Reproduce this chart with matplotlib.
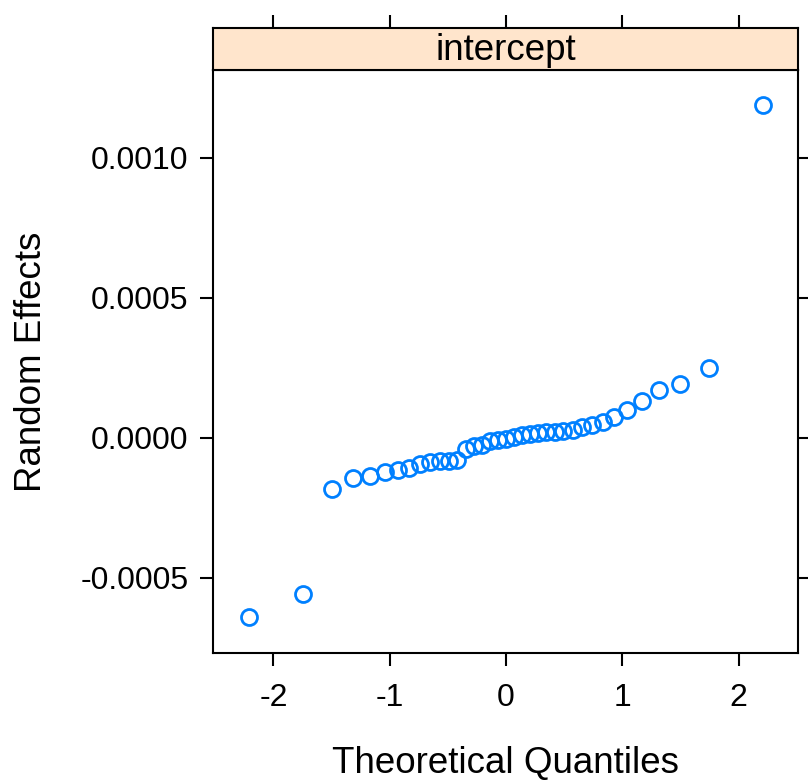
from statistics import NormalDist
import matplotlib
matplotlib.use("Agg")
import matplotlib.pyplot as plt

plt.rcParams["font.family"] = ["Liberation Sans", "DejaVu Sans"]
plt.rcParams["axes.unicode_minus"] = False

# sorted random-effect estimates for the intercept term
random_effects = [
    -0.000639, -0.000557, -0.000182, -0.000143, -0.000135, -0.000122,
    -0.000114, -0.000106, -0.000092, -0.000085, -0.000084, -0.000083,
    -0.000079, -0.000039, -0.000029, -0.000025, -0.000011, -0.000007,
    -0.000002, 0.000004, 0.000011, 0.000014, 0.000018, 0.000021,
    0.000023, 0.000025, 0.000029, 0.000039, 0.000048, 0.000057,
    0.000074, 0.000100, 0.000133, 0.000173, 0.000194, 0.000251,
    0.001189,
]
panel_title = "intercept"
x_ticks = [-2, -1, 0, 1, 2]
y_ticks = [-0.0005, 0.0, 0.0005, 0.0010]
y_tick_labels = ["-0.0005", "0.0000", "0.0005", "0.0010"]

# theoretical normal quantiles, ppoints-style (a = 0.5)
n = len(random_effects)
theoretical = [NormalDist().inv_cdf((i - 0.5) / n) for i in range(1, n + 1)]

fig = plt.figure(figsize=(8.08, 7.80), dpi=100)
ax = fig.add_axes([213 / 808, 1 - 653 / 780, 585 / 808, 583 / 780])
strip = fig.add_axes([213 / 808, 1 - 70 / 780, 585 / 808, 42 / 780])

ax.plot(theoretical, random_effects, linestyle="none", marker="o",
        markersize=11.5, markerfacecolor="none", markeredgecolor="#0080ff",
        markeredgewidth=2.0)

ax.set_xlim(-2.52, 2.51)
ax.set_ylim(-0.000768, 0.001314)
ax.set_xticks(x_ticks)
ax.set_xticklabels([str(t) for t in x_ticks])
ax.set_yticks(y_ticks)
ax.set_yticklabels(y_tick_labels)
ax.tick_params(axis="both", direction="out", length=9.5, width=1.5,
               labelsize=23, right=True, labelright=False)
ax.tick_params(axis="x", pad=12)
ax.tick_params(axis="y", pad=8)
for s in ax.spines.values():
    s.set_linewidth(1.5)

ax.set_xlabel("Theoretical Quantiles", fontsize=26.5, labelpad=24)
ax.set_ylabel("Random Effects", fontsize=26.5, labelpad=23)

# panel strip with ticks along its top edge
strip.set_facecolor("#ffe5cc")
strip.set_xlim(ax.get_xlim())
strip.set_ylim(0, 1)
strip.set_xticks(x_ticks)
strip.set_yticks([])
strip.tick_params(axis="x", direction="out", length=9.5, width=1.5,
                  bottom=False, labelbottom=False, top=True, labeltop=False)
for s in strip.spines.values():
    s.set_linewidth(1.5)
strip.text(0.5, 0.47, panel_title, transform=strip.transAxes,
           ha="center", va="center", fontsize=26.5)

fig.savefig("out.png", dpi=100)
